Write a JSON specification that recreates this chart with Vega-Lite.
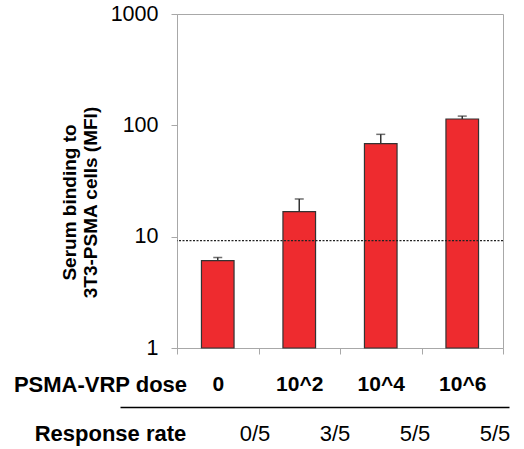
{
  "$schema": "https://vega.github.io/schema/vega-lite/v6.json",
  "width": 326,
  "height": 334,
  "autosize": {"type": "none"},
  "padding": {"left": 177, "top": 14, "right": 21, "bottom": 101},
  "background": "#ffffff",
  "config": {
    "font": "Liberation Sans",
    "view": {"stroke": "#a8a8a8", "strokeWidth": 1}
  },
  "data": {
    "values": [
      {"dose": "0", "mean": 6.1, "upper": 6.5, "rate": "0/5"},
      {"dose": "10^2", "mean": 16.8, "upper": 21.8, "rate": "3/5"},
      {"dose": "10^4", "mean": 68.5, "upper": 83, "rate": "5/5"},
      {"dose": "10^6", "mean": 114, "upper": 121, "rate": "5/5"}
    ]
  },
  "resolve": {"scale": {"x": "independent"}, "axis": {"x": "independent"}},
  "layer": [
    {
      "layer": [
        {
          "mark": {"type": "bar", "width": {"band": 0.4}, "fill": "#ee2b2f", "stroke": "#333333", "strokeWidth": 1.2},
          "encoding": {
            "x": {
              "field": "dose",
              "type": "ordinal",
              "sort": null,
              "scale": {"type": "band", "paddingInner": 0, "paddingOuter": 0},
              "axis": {
                "orient": "bottom",
                "title": "PSMA-VRP dose",
                "titleFontSize": 22,
                "titleFontWeight": "bold",
                "titleColor": "#000000",
                "titleX": -77,
                "titleY": 36,
                "titleAlign": "center",
                "titleBaseline": "middle",
                "labelAngle": 0,
                "labelFontSize": 21,
                "labelFontWeight": "bold",
                "labelColor": "#000000",
                "labelPadding": 19,
                "tickBand": "extent",
                "tickSize": 6,
                "tickColor": "#a8a8a8",
                "domainColor": "#a8a8a8",
                "grid": false
              }
            },
            "y": {
              "field": "mean",
              "type": "quantitative",
              "stack": null,
              "scale": {"type": "log", "domain": [1, 1000]},
              "axis": {
                "values": [1, 10, 100, 1000],
                "format": "d",
                "title": ["Serum binding to", "3T3-PSMA cells (MFI)"],
                "titleFontSize": 19,
                "titleFontWeight": "bold",
                "titleColor": "#000000",
                "titleLineHeight": 21,
                "titleX": -108,
                "titleY": 188,
                "titleAlign": "center",
                "titleBaseline": "middle",
                "labelFontSize": 21.5,
                "labelColor": "#000000",
                "labelPadding": 13,
                "labelDy": 4,
                "tickSize": 6,
                "tickColor": "#a8a8a8",
                "domainColor": "#a8a8a8",
                "grid": false
              }
            },
            "y2": {"datum": 1}
          }
        },
        {
          "mark": {"type": "rule", "color": "#333333", "strokeWidth": 1.5},
          "encoding": {
            "x": {"field": "dose", "type": "ordinal", "sort": null},
            "y": {"field": "mean", "type": "quantitative"},
            "y2": {"field": "upper"}
          }
        },
        {
          "mark": {"type": "tick", "color": "#333333", "thickness": 1.5, "size": 9},
          "encoding": {
            "x": {"field": "dose", "type": "ordinal", "sort": null},
            "y": {"field": "upper", "type": "quantitative"}
          }
        },
        {
          "data": {"values": [{"threshold": 9.2}]},
          "mark": {"type": "rule", "color": "#222222", "strokeWidth": 1.2, "strokeDash": [2, 1.5]},
          "encoding": {
            "y": {"field": "threshold", "type": "quantitative"}
          }
        }
      ]
    },
    {
      "mark": {"type": "bar", "opacity": 0},
      "encoding": {
        "x": {
          "field": "dose",
          "type": "ordinal",
          "sort": null,
          "scale": {"type": "band", "range": [-57, 332], "paddingInner": 0.65, "paddingOuter": 0.756, "align": 1},
          "axis": {
            "orient": "bottom",
            "offset": 59,
            "title": "Response rate",
            "titleFontSize": 22,
            "titleFontWeight": "bold",
            "titleColor": "#000000",
            "titleX": -67,
            "titleY": 26,
            "titleAlign": "center",
            "titleBaseline": "middle",
            "labelExpr": "datum.label == '0' ? '0/5' : datum.label == '10^2' ? '3/5' : '5/5'",
            "labelAngle": 0,
            "labelFontSize": 22,
            "labelColor": "#000000",
            "labelPadding": 16,
            "ticks": false,
            "tickSize": 0,
            "domainColor": "#000000",
            "domainWidth": 1.5,
            "grid": false
          }
        },
        "y": {"field": "mean", "type": "quantitative"},
        "y2": {"datum": 1}
      }
    }
  ]
}
